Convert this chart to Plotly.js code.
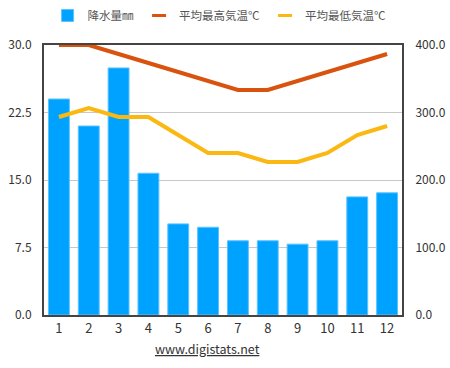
<!DOCTYPE html>
<html><head><meta charset="utf-8">
<script src="https://cdn.plot.ly/plotly-3.0.1.min.js"></script>
<style>body{margin:0;padding:0;background:#fff}#c{width:450px;height:368px}</style>
</head><body><div id="c"></div>
<script>
const months = ['1','2','3','4','5','6','7','8','9','10','11','12'];
const rain = [320, 280, 366, 210, 135, 130, 110, 110, 105, 110, 175, 181];
const tMax = [30, 30, 29, 28, 27, 26, 25, 25, 26, 27, 28, 29];
const tMin = [22, 23, 22, 22, 20, 18, 18, 17, 17, 18, 20, 21];
const leftTicks = [0, 7.5, 15, 22.5, 30];
const rightTicks = [0, 100, 200, 300, 400];
const names = ['降水量㎜', '平均最高気温℃', '平均最低気温℃'];
const colors = ['#00a2ff', '#d9530f', '#fbb812'];

const font = {family: '"Noto Sans CJK JP", "Noto Sans", sans-serif', size: 12, color: '#333'};
const data = [
  {type: 'bar', name: names[0], x: months, y: rain, yaxis: 'y',
   marker: {color: colors[0], line: {color: '#5cc3ff', width: 1}}},
  {type: 'scatter', mode: 'lines', name: names[1], x: months, y: tMax, yaxis: 'y2',
   line: {color: colors[1], width: 4}, showlegend: false},
  {type: 'scatter', mode: 'lines', name: names[2], x: months, y: tMin, yaxis: 'y2',
   line: {color: colors[2], width: 4}, showlegend: false},
  // legend-only entries with short dash symbols
  {type: 'scatter', mode: 'markers', name: names[1], x: [null], y: [null], yaxis: 'y2',
   marker: {symbol: 'line-ew-open', size: 10, color: colors[1], line: {color: colors[1], width: 3}}},
  {type: 'scatter', mode: 'markers', name: names[2], x: [null], y: [null], yaxis: 'y2',
   marker: {symbol: 'line-ew-open', size: 10, color: colors[2], line: {color: colors[2], width: 3}}}
];
const layout = {
  width: 450, height: 368,
  margin: {l: 44, r: 48, t: 45, b: 53},
  paper_bgcolor: '#fff', plot_bgcolor: '#fff',
  font: font,
  showlegend: true,
  bargap: 0.3,
  legend: {orientation: 'h', x: 0.01, xanchor: 'left', yref: 'container', y: 0.958, yanchor: 'middle',
           font: {size: 11.5, color: '#555'}, traceorder: 'normal', itemwidth: 30,
           bgcolor: 'rgba(0,0,0,0)'},
  xaxis: {type: 'category', range: [-0.5, 11.5], showline: true, linecolor: '#444', linewidth: 2,
          mirror: true, ticks: '', tickfont: {size: 13, color: '#333'}, showgrid: false},
  yaxis: {side: 'right', range: [0, 400], tickvals: rightTicks, ticktext: rightTicks.map(v => v.toFixed(1)),
          showline: true, linecolor: '#444', linewidth: 2, ticks: '', showgrid: true, gridcolor: '#c8c8c8', gridwidth: 1,
          zeroline: false, tickfont: {size: 12, color: '#333'}, ticklabelstandoff: 9},
  yaxis2: {overlaying: 'y', side: 'left', range: [0, 30], tickvals: leftTicks, ticktext: leftTicks.map(v => v.toFixed(1)),
           showline: true, linecolor: '#444', linewidth: 2, ticks: '', showgrid: false, zeroline: false,
           tickfont: {size: 12, color: '#333'}, ticklabelstandoff: 8},
  annotations: [{text: '<u>www.digistats.net</u>', xref: 'paper', yref: 'paper', x: 0.458, y: -0.08,
                 xanchor: 'center', yanchor: 'top', showarrow: false, font: {size: 12.5, color: '#333'}}]
};
Plotly.newPlot('c', data, layout, {displayModeBar: false, staticPlot: true});
</script></body></html>
